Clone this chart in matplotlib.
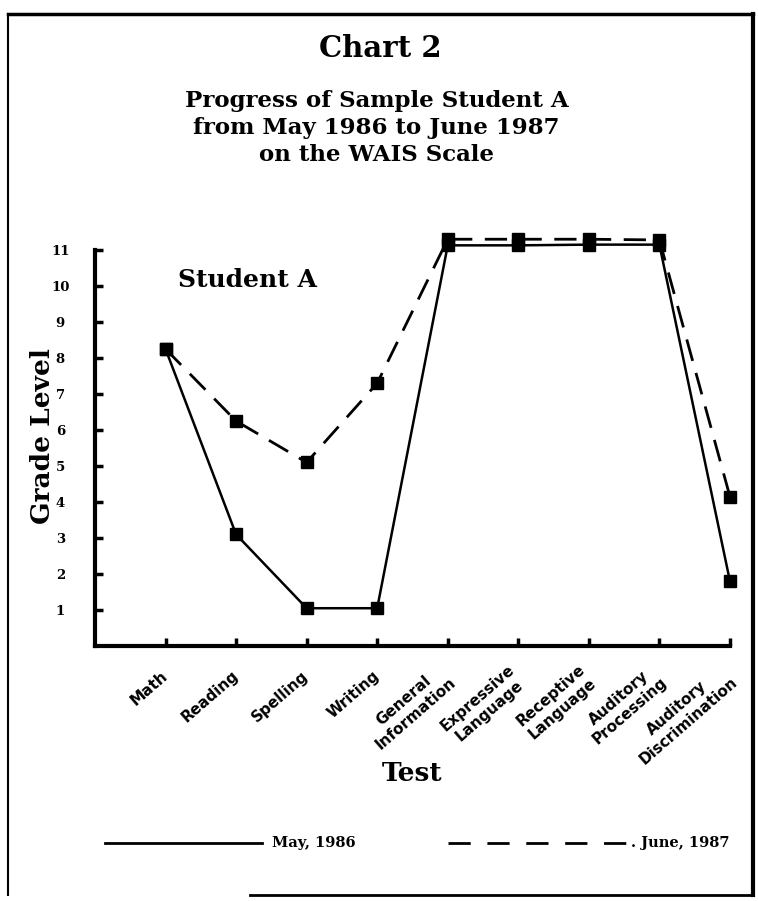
import matplotlib.pyplot as plt
from matplotlib.lines import Line2D

plt.rcParams['font.family'] = ['DejaVu Serif']
plt.rcParams['font.weight'] = 'bold'

tests = ['Math', 'Reading', 'Spelling', 'Writing', 'General\nInformation',
         'Expressive\nLanguage', 'Receptive\nLanguage', 'Auditory\nProcessing',
         'Auditory\nDiscrimination']
may_1986 = [8.25, 3.1, 1.05, 1.05, 11.13, 11.13, 11.15, 11.15, 1.8]
june_1987 = [8.25, 6.25, 5.1, 7.3, 11.3, 11.3, 11.3, 11.28, 4.15]
grades = list(range(1, 12))

fig = plt.figure(figsize=(7.58, 9.01), dpi=100)
ax = fig.add_axes([0.1253, 0.283, 0.8377, 0.4395])

x = list(range(1, len(tests) + 1))
ax.plot(x, may_1986, color='black', lw=1.8, marker='s', markersize=9,
        clip_on=False, zorder=3)
ax.plot(x, june_1987, color='black', lw=2, dashes=(8, 4.5), marker='s',
        markersize=9, clip_on=False, zorder=3)

ax.set_xlim(0, 9)
ax.set_ylim(0, 11)
ax.spines['top'].set_visible(False)
ax.spines['right'].set_visible(False)
ax.spines['left'].set_linewidth(3)
ax.spines['bottom'].set_linewidth(3)

ax.set_yticks(grades)
ax.set_yticklabels([str(g) for g in grades], fontsize=9.5, fontweight='bold',
                   ha='center')
ax.tick_params(axis='y', direction='in', length=6, width=2.5, pad=25)
ax.set_xticks(x)
ax.set_xticklabels(tests, fontsize=11, fontweight='bold', rotation=41,
                   ha='right', va='center', rotation_mode='anchor',
                   multialignment='center', family='DejaVu Sans')
ax.tick_params(axis='x', direction='in', length=6, width=2.5, pad=20)

ax.set_ylabel('Grade Level', fontsize=19, fontweight='bold')
ax.yaxis.set_label_coords(-0.063, 0.53)
ax.set_xlabel('Test', fontsize=19, fontweight='bold')
ax.xaxis.set_label_coords(0.5, -0.29)

ax.text(0.13, 0.925, 'Student A', transform=ax.transAxes, fontsize=18,
        fontweight='bold', va='center', ha='left')

fig.text(0.502, 0.946, 'Chart 2', fontsize=21, fontweight='bold',
         ha='center', va='center')
fig.text(0.497, 0.858, 'Progress of Sample Student A\nfrom May 1986 to June 1987\non the WAIS Scale',
         fontsize=16.5, fontweight='bold', ha='center', va='center',
         linespacing=1.3)

# legend drawn underneath
ly = 1 - 843 / 901
fig.add_artist(Line2D([105 / 758, 262 / 758], [ly, ly], color='black', lw=2))
fig.text(272 / 758, ly, 'May, 1986', fontsize=10.5, fontweight='bold',
         va='center', ha='left')
fig.add_artist(Line2D([448 / 758, 628 / 758], [ly, ly], color='black', lw=2,
                      dashes=(8, 6)))
fig.text(631 / 758, ly, '. June, 1987', fontsize=10.5, fontweight='bold',
         va='center', ha='left')

# frame around the figure
fw = dict(color='black', transform=fig.transFigure)
fig.add_artist(Line2D([8 / 758, 8 / 758], [1 - 14 / 901, 1 - 895 / 901], lw=1.5, **fw))
fig.add_artist(Line2D([8 / 758, 753 / 758], [1 - 14 / 901, 1 - 14 / 901], lw=2.5, **fw))
fig.add_artist(Line2D([753 / 758, 753 / 758], [1 - 14 / 901, 1 - 895 / 901], lw=3, **fw))
fig.add_artist(Line2D([250 / 758, 753 / 758], [1 - 895 / 901, 1 - 895 / 901], lw=2, **fw))

fig.savefig('out.png', dpi=100)
